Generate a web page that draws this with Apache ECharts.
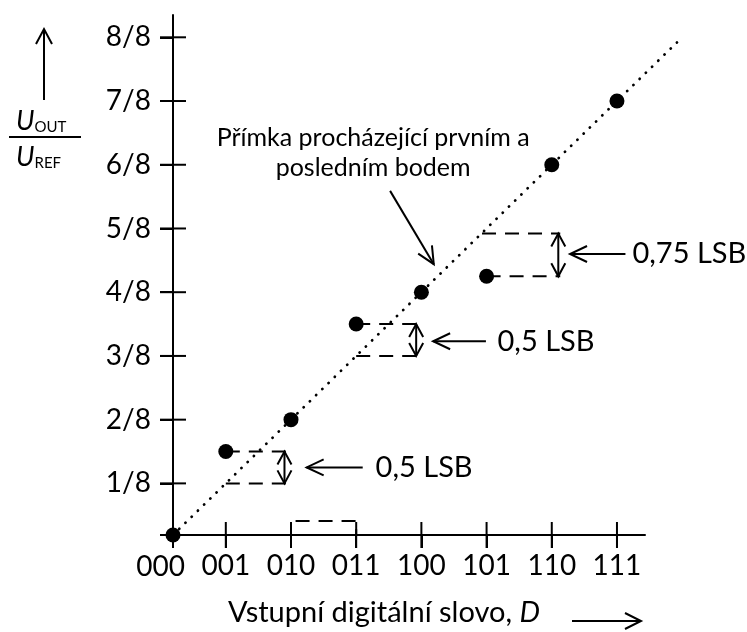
<!DOCTYPE html>
<html>
<head>
<meta charset="utf-8">
<script src="https://cdn.jsdelivr.net/npm/echarts@6/dist/echarts.min.js"></script>
<style>
html,body{margin:0;padding:0;background:#fff;}
#c{width:747px;height:632px;}
</style>
</head>
<body>
<div id="c"></div>
<script>
// ---- data ----
const categories = ['000', '001', '010', '011', '100', '101', '110', '111'];
const codePositions = [0.19, 1, 2, 3, 4, 5, 6, 7];        // where each code's point sits on the x axis
const outputs = [0.19, 1.5, 2, 3.5, 4, 4.25, 6, 7];        // U_OUT/U_REF in eighths
const xLabelValues = [1, 2, 3, 4, 5, 6, 7];
const xTickValues = [0.19, 1, 2, 3, 4, 5, 6, 7];
const yTickValues = [0.19, 1, 2, 3, 4, 5, 6, 7, 8];
const yLabelValues = [1, 2, 3, 4, 5, 6, 7, 8];
const yTickLabels = ['1/8', '2/8', '3/8', '4/8', '5/8', '6/8', '7/8', '8/8'];
const idealLine = [0.19, 0.19, 7.92, 7.92];
const dashedPaths = [
  [[1, 1.5], [1.95, 1.5]],
  [[1, 1], [1.95, 1]],
  [[2.07, 0.41], [3, 0.41], [3, 0.19]],
  [[3, 3.5], [3.95, 3.5]],
  [[3, 3], [3.95, 3]],
  [[5, 4.25], [6.13, 4.25]],
  [[4.93, 4.92], [6.13, 4.92]]
];
// [x1, y1, x2, y2, heads]  heads: 1 = at end, 2 = both ends
const arrows = [
  [1.9, 1, 1.9, 1.5, 2],
  [3.92, 3, 3.92, 3.5, 2],
  [6.1, 4.25, 6.1, 4.92, 2],
  [3.1, 1.25, 2.24, 1.25, 1],
  [4.99, 3.23, 4.18, 3.23, 1],
  [7.13, 4.6, 6.28, 4.6, 1],
  [3.52, 5.59, 4.19, 4.44, 1]
];
const lsbTexts = ['0,5 LSB', '0,5 LSB', '0,75 LSB'];
const lsbAnchors = [[3.29, 1.25], [5.16, 3.23], [7.23, 4.6]];
const noteText = 'Přímka procházející prvním a\nposledním bodem';
const noteAnchor = [3.26, 6.18];

const X_MIN = 0.19, X_MAX = 7.43, Y_MIN = 0.19, Y_MAX = 8.35;
const FONT = 'Lato';
const BLACK = '#000';
const TICK = 13;

const chart = echarts.init(document.getElementById('c'), null, {renderer: 'canvas'});

function head(tip, from, L, W) {
  const dx = tip[0] - from[0], dy = tip[1] - from[1];
  const len = Math.hypot(dx, dy) || 1;
  const ux = dx / len, uy = dy / len;
  return {
    type: 'polyline',
    shape: {points: [
      [tip[0] - ux * L - uy * W, tip[1] - uy * L + ux * W],
      [tip[0], tip[1]],
      [tip[0] - ux * L + uy * W, tip[1] - uy * L - ux * W]
    ]},
    style: {stroke: BLACK, fill: null, lineWidth: 2}
  };
}

function arrowItem(params, api) {
  const a = api.coord([api.value(0), api.value(1)]);
  const b = api.coord([api.value(2), api.value(3)]);
  const both = api.value(4) === 2;
  const L = both ? 13 : 17, W = both ? 7 : 8;
  const children = [{type: 'line', shape: {x1: a[0], y1: a[1], x2: b[0], y2: b[1]},
    style: {stroke: BLACK, lineWidth: 2}}];
  children.push(head(b, a, L, W));
  if (both) children.push(head(a, b, L, W));
  return {type: 'group', children};
}

// crossing axis ticks (both halves) placed through the axis scales
function tickItem(params, api) {
  const p = api.coord([api.value(0), api.value(1)]);
  const vertical = api.value(2) === 1;
  const shape = vertical
    ? {x1: p[0], y1: p[1] - TICK, x2: p[0], y2: p[1] + TICK}
    : {x1: p[0] - TICK, y1: p[1], x2: p[0] + TICK, y2: p[1]};
  return {type: 'line', shape: shape, style: {stroke: BLACK, lineWidth: 2}};
}

const axisLineStyle = {color: BLACK, width: 2};
const textItem = {color: 'rgba(0,0,0,0)', opacity: 1};
const series = [];

series.push({
  type: 'custom', name: 'ideal', data: [idealLine],
  xAxisIndex: 0, yAxisIndex: 0, clip: false, silent: true,
  encode: {x: [0, 2], y: [1, 3]},
  renderItem: (params, api) => {
    const a = api.coord([api.value(0), api.value(1)]);
    const b = api.coord([api.value(2), api.value(3)]);
    return {type: 'line', shape: {x1: a[0], y1: a[1], x2: b[0], y2: b[1]},
      style: {stroke: BLACK, lineWidth: 2.8, lineDash: [0.1, 8.6], lineCap: 'round'}};
  },
  z: 2
});

series.push({
  type: 'custom', name: 'ticks',
  data: xTickValues.map(v => [v, Y_MIN, 1]).concat(yTickValues.map(v => [X_MIN, v, 0])),
  encode: {x: 0, y: 1},
  xAxisIndex: 0, yAxisIndex: 0, clip: false, silent: true,
  renderItem: tickItem,
  z: 10
});

dashedPaths.forEach((p, i) => {
  series.push({
    type: 'line', name: 'dash' + i, data: p, showSymbol: false, clip: false,
    xAxisIndex: 0, yAxisIndex: 0, silent: true,
    lineStyle: {color: BLACK, width: 2, type: [14, 9]},
    z: 3
  });
});

series.push({
  type: 'custom', name: 'arrows', data: arrows, renderItem: arrowItem,
  xAxisIndex: 0, yAxisIndex: 0, clip: false, silent: true,
  encode: {x: [0, 2], y: [1, 3]}, z: 4
});

series.push({
  type: 'scatter', name: 'points',
  data: codePositions.map((x, i) => [x, outputs[i]]),
  xAxisIndex: 0, yAxisIndex: 0, clip: false,
  symbol: 'circle', symbolSize: 15, itemStyle: {color: BLACK, opacity: 1}, z: 11
});

series.push({
  type: 'scatter', name: 'lsb',
  data: lsbAnchors.map((p, i) => ({value: p, name: lsbTexts[i]})),
  xAxisIndex: 0, yAxisIndex: 0, clip: false, symbolSize: 1,
  itemStyle: textItem,
  label: {show: true, position: 'right', distance: 0, formatter: '{b}',
    color: BLACK, fontFamily: FONT, fontSize: 29},
  z: 6
});

series.push({
  type: 'scatter', name: 'note',
  data: [{value: noteAnchor, name: noteText}],
  xAxisIndex: 0, yAxisIndex: 0, clip: false, symbolSize: 1,
  itemStyle: textItem,
  label: {show: true, position: 'inside', formatter: '{b}', align: 'center',
    color: BLACK, fontFamily: FONT, fontSize: 25, lineHeight: 30},
  z: 6
});

// label for the first code, which sits left of the axis origin
series.push({
  type: 'scatter', name: 'firstCode',
  data: [{value: [0, Y_MIN], name: categories[0]}],
  xAxisIndex: 0, yAxisIndex: 0, clip: false, symbolSize: 1,
  itemStyle: textItem,
  label: {show: true, position: 'bottom', distance: 17, formatter: '{b}',
    color: BLACK, fontFamily: FONT, fontSize: 28},
  z: 6
});

const option = {
  backgroundColor: '#fff',
  animation: false,
  grid: {left: 173, right: 102, top: 15, bottom: 84, containLabel: false},
  xAxis: {
    type: 'value', min: X_MIN, max: X_MAX, position: 'bottom',
    splitLine: {show: false},
    axisLine: {show: true, onZero: false, lineStyle: axisLineStyle},
    axisTick: {show: true, customValues: xTickValues, length: TICK, lineStyle: axisLineStyle},
    axisLabel: {show: true, customValues: xLabelValues, margin: 17,
      formatter: v => categories[Math.round(v)], color: BLACK, fontFamily: FONT, fontSize: 28},
    name: 'Vstupní digitální slovo, {i|D}',
    nameLocation: 'middle', nameGap: 63,
    nameTextStyle: {color: BLACK, fontFamily: FONT, fontSize: 29, padding: [0, 50, 0, 0],
      rich: {i: {fontStyle: 'italic', fontFamily: FONT, fontSize: 29, color: BLACK}}}
  },
  yAxis: {
    type: 'value', min: Y_MIN, max: Y_MAX, position: 'left',
    splitLine: {show: false},
    axisLine: {show: true, onZero: false, lineStyle: axisLineStyle},
    axisTick: {show: true, customValues: yTickValues, length: TICK, lineStyle: axisLineStyle},
    axisLabel: {show: true, customValues: yLabelValues, margin: 22,
      formatter: v => yTickLabels[Math.round(v) - 1], color: BLACK, fontFamily: FONT, fontSize: 28}
  },
  graphic: [
    // y axis name: U_OUT / U_REF with arrow
    {type: 'line', shape: {x1: 44, y1: 100, x2: 44, y2: 29}, style: {stroke: BLACK, lineWidth: 2}},
    {type: 'polyline', shape: {points: [[36, 44], [44, 29], [52, 44]]}, style: {stroke: BLACK, fill: null, lineWidth: 2}},
    {type: 'text', left: 16, top: 108, style: {
      text: '{u|U}{s|OUT}', rich: {
        u: {fontFamily: FONT, fontStyle: 'italic', fontSize: 27, fill: BLACK, verticalAlign: 'bottom', lineHeight: 28},
        s: {fontFamily: FONT, fontSize: 15, fill: BLACK, verticalAlign: 'bottom', lineHeight: 25}
      }}},
    {type: 'line', shape: {x1: 9, y1: 137, x2: 81, y2: 137}, style: {stroke: BLACK, lineWidth: 2}},
    {type: 'text', left: 16, top: 144, style: {
      text: '{u|U}{s|REF}', rich: {
        u: {fontFamily: FONT, fontStyle: 'italic', fontSize: 27, fill: BLACK, verticalAlign: 'bottom', lineHeight: 28},
        s: {fontFamily: FONT, fontSize: 15, fill: BLACK, verticalAlign: 'bottom', lineHeight: 25}
      }}},
    // x axis name arrow
    {type: 'line', shape: {x1: 572, y1: 621, x2: 641, y2: 621}, style: {stroke: BLACK, lineWidth: 2}},
    {type: 'polyline', shape: {points: [[625, 613], [641, 621], [625, 629]]}, style: {stroke: BLACK, fill: null, lineWidth: 2}}
  ],
  series: series
};

chart.setOption(option);
</script>
</body>
</html>
